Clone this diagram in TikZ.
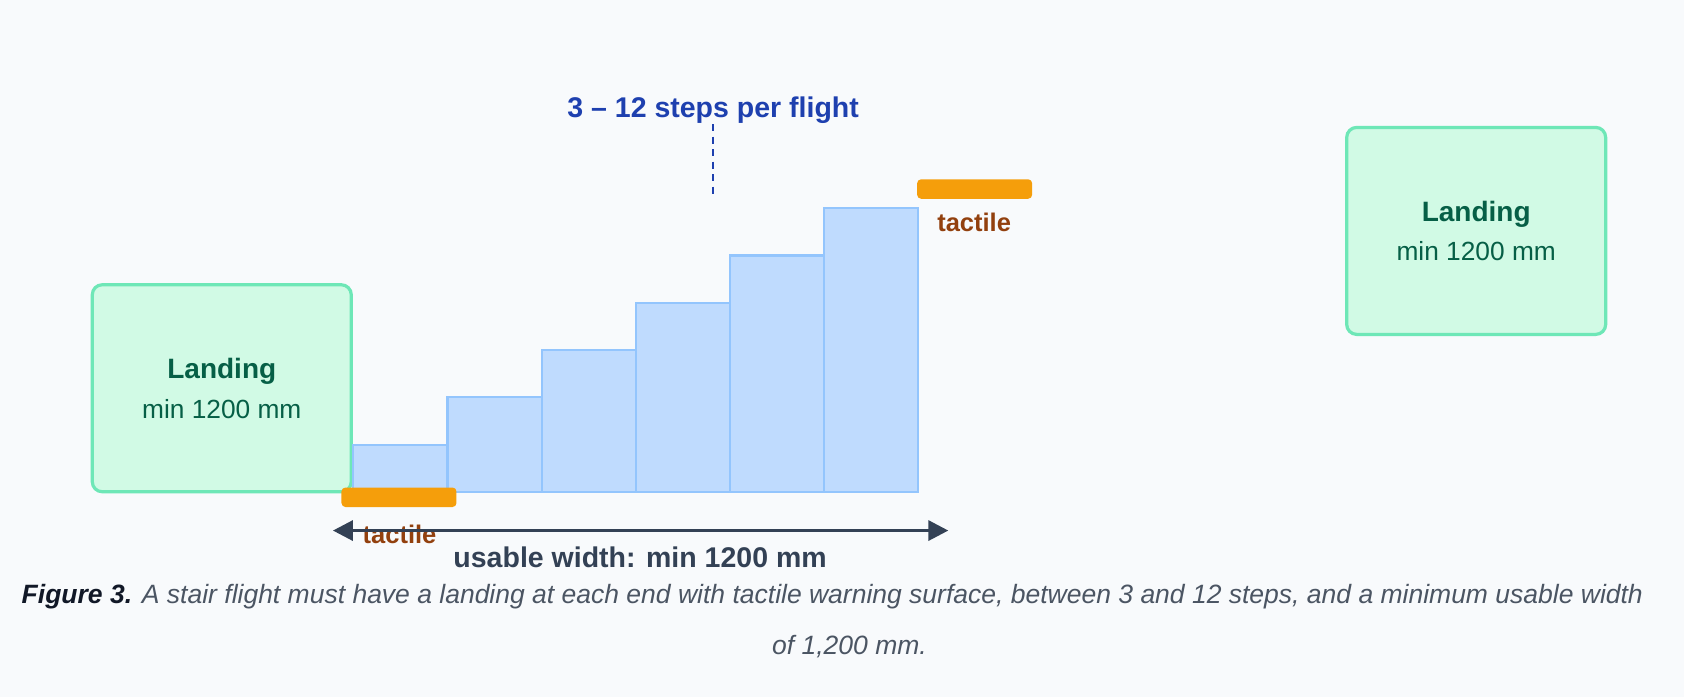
\documentclass[tikz,border=0pt]{standalone}
\usepackage{fontspec}
\setmainfont{Liberation Sans}
\usepackage{tikz}
\usetikzlibrary{shapes,arrows.meta}
\definecolor{pagebg}{HTML}{F8FAFC}
\definecolor{landfill}{HTML}{D1FAE5}
\definecolor{landline}{HTML}{6EE7B7}
\definecolor{landtext}{HTML}{065F46}
\definecolor{stepfill}{HTML}{BFDBFE}
\definecolor{stepline}{HTML}{93C5FD}
\definecolor{tactile}{HTML}{F59E0B}
\definecolor{tactiletext}{HTML}{92400E}
\definecolor{flightblue}{HTML}{1E40AF}
\definecolor{slate}{HTML}{334155}
\definecolor{captext}{HTML}{4B5563}
\definecolor{capdark}{HTML}{111827}
\tikzstyle{landing}=[rectangle, rounded corners=10pt, draw=landline, fill=landfill, line width=3.2pt, minimum width=259pt, minimum height=207pt, align=center, text=landtext, font=\fontsize{26.3}{39.7}\selectfont]
\tikzstyle{stepblock}=[rectangle, draw=stepline, fill=stepfill, line width=2.2pt, minimum width=94.15pt, inner sep=0pt, anchor=south west]
\tikzstyle{tactilestrip}=[rectangle, rounded corners=4pt, fill=tactile, minimum width=115pt, minimum height=19.5pt, inner sep=0pt]
\tikzstyle{tactilelabel}=[text=tactiletext, font=\bfseries\fontsize{25.5}{30}\selectfont]
\tikzstyle{caption}=[text=captext, font=\itshape\fontsize{26.5}{32}\selectfont]
\newcommand{\stairlanding}[2]{
	\node[landing] (#1) at (#2) {\textbf{\fontsize{28}{39.7}\selectfont Landing}\\min 1200 mm};}
\newcommand{\tactilestrip}[3]{
	\node[tactilestrip] (#1) at (#2) {};
	\node[tactilelabel] (#1l) at (#3) {tactile};}

\begin{document}
\begin{tikzpicture}[x=1.074pt,y=-1.074pt]
\fill[pagebg] (0,0) rectangle (1568,649);
\useasboundingbox (0,0) rectangle (1568,649);
\stairlanding{lowland}{206.5,361.5}
\stairlanding{upland}{1374.5,215}
\foreach \i in {1,...,6}
	\node[stepblock, minimum height={47.26pt*\i}] (step\i) at ({328+87.67*(\i-1)},459) {};
\tactilestrip{toptac}{907.5,176}{907,207}
\tactilestrip{bottac}{371.5,463}{372,498}
\coordinate (wl) at (310,494);
\coordinate (wr) at (883,494);
\draw[slate, line width=3.3pt, {Triangle[length=20pt,width=20pt]}-{Triangle[length=20pt,width=20pt]}] (wl) -- (wr);
\node[text=slate, font=\bfseries\fontsize{28.5}{34}\selectfont] (width) at (596,519) {usable width: min 1200 mm};
\node[text=flightblue, inner sep=0pt, font=\bfseries\fontsize{28.5}{34}\selectfont] (flight) at (664,103) {3 \textendash{} 12 steps per flight};
\coordinate (flightend) at (664,183);
\draw[flightblue, line width=2.2pt, dash pattern=on 7pt off 5.5pt] (flight.south) -- (flightend);
\node[caption] (cap1) at (775,556) {\textcolor{capdark}{\bfseries Figure 3.} A stair flight must have a landing at each end with tactile warning surface, between 3 and 12 steps, and a minimum usable width};
\node[caption] (cap2) at (791,602) {of 1,200 mm.};
\end{tikzpicture}
\end{document}
